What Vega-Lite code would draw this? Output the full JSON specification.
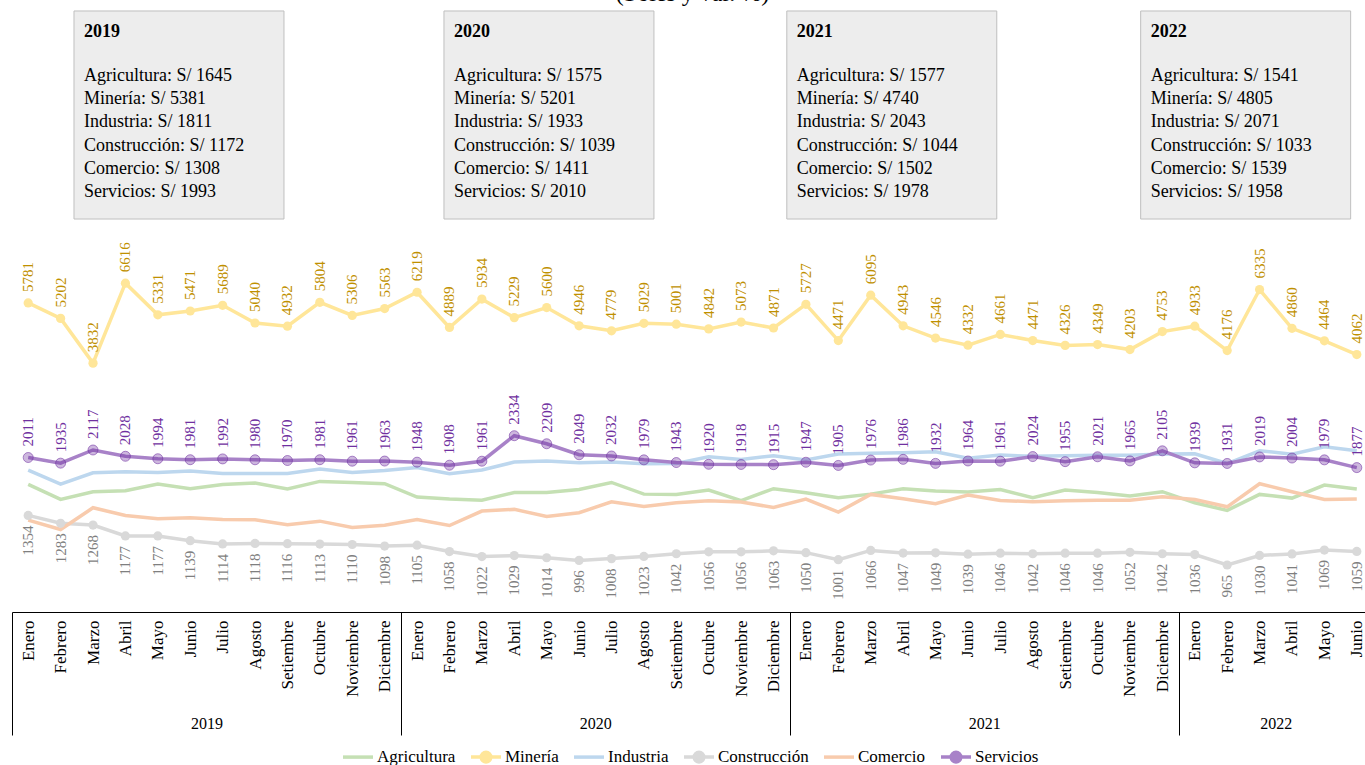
{
  "$schema": "https://vega.github.io/schema/vega-lite/v6.json",
  "width": 1353,
  "height": 582,
  "autosize": {"type": "none"},
  "padding": {"left": 12, "top": 30, "right": 0, "bottom": 153},
  "background": "white",
  "title": {"text": "(Soles y var. %)", "fontSize": 24, "fontWeight": "normal", "font": "Liberation Serif", "anchor": "middle", "frame": "group", "offset": 4, "dx": 4, "color": "black"},
  "config": {"font": "Liberation Serif", "view": {"stroke": null}},
  "resolve": {"scale": {"x": "independent"}, "axis": {"x": "independent"}},
  "layer": [
    {
      "data": {"values": [
        {"anio": "2019", "x0": 1.913, "x1": 8.393, "texto": "Agricultura: S/ 1645\nMinería: S/ 5381\nIndustria: S/ 1811\nConstrucción: S/ 1172\nComercio: S/ 1308\nServicios: S/ 1993"},
        {"anio": "2020", "x0": 13.33, "x1": 19.81, "texto": "Agricultura: S/ 1575\nMinería: S/ 5201\nIndustria: S/ 1933\nConstrucción: S/ 1039\nComercio: S/ 1411\nServicios: S/ 2010"},
        {"anio": "2021", "x0": 23.91, "x1": 30.39, "texto": "Agricultura: S/ 1577\nMinería: S/ 4740\nIndustria: S/ 2043\nConstrucción: S/ 1044\nComercio: S/ 1502\nServicios: S/ 1978"},
        {"anio": "2022", "x0": 34.83, "x1": 41.31, "texto": "Agricultura: S/ 1541\nMinería: S/ 4805\nIndustria: S/ 2071\nConstrucción: S/ 1033\nComercio: S/ 1539\nServicios: S/ 1958"}
      ]},
      "encoding": {
        "x": {
          "field": "x0", "type": "quantitative",
          "scale": {"domain": [0, 42], "range": [0, 1361], "nice": false, "zero": false},
          "axis": {
            "orient": "bottom", "title": null, "domain": false, "grid": false,
            "values": [0, 6, 12, 18, 24, 30, 36, 39],
            "tickSize": 123, "tickColor": "black", "tickWidth": 1,
            "tickOpacity": {"condition": {"test": "datum.value % 12 === 0", "value": 1}, "value": 0},
            "labelExpr": "datum.value === 6 ? '2019' : datum.value === 18 ? '2020' : datum.value === 30 ? '2021' : datum.value === 39 ? '2022' : ''",
            "labelPadding": -20, "labelAngle": 0, "labelFontSize": 16, "labelFont": "Liberation Serif", "labelColor": "black",
            "labelFlush": false, "labelOverlap": false, "labelBaseline": "top"
          }
        }
      },
      "layer": [
        {
          "mark": {"type": "rect", "fill": "#ededed", "stroke": "#bfbfbf", "strokeWidth": 1},
          "encoding": {
            "x2": {"field": "x1"},
            "y": {"datum": 42475, "type": "quantitative", "scale": {"type": "log", "domain": [700, 37300], "nice": false, "zero": false}, "axis": null},
            "y2": {"datum": 10255}
          }
        },
        {
          "mark": {"type": "text", "align": "left", "baseline": "middle", "dx": 10, "fontSize": 18, "fontWeight": "bold", "font": "Liberation Serif", "color": "black"},
          "encoding": {
            "y": {"datum": 36802, "type": "quantitative", "axis": null},
            "text": {"field": "anio", "type": "nominal"}
          }
        },
        {
          "mark": {"type": "text", "align": "left", "baseline": "middle", "dx": 10, "fontSize": 18, "font": "Liberation Serif", "color": "black", "lineBreak": "\n", "lineHeight": 23.2},
          "encoding": {
            "y": {"datum": 27237, "type": "quantitative", "axis": null},
            "text": {"field": "texto", "type": "nominal"}
          }
        }
      ]
    },
    {
      "data": {"values": [
        {"periodo": "Enero 2019", "Agricultura": 1673, "Minería": 5781, "Industria": 1846, "Construcción": 1354, "Comercio": 1311, "Servicios": 2011},
        {"periodo": "Febrero 2019", "Agricultura": 1510, "Minería": 5202, "Industria": 1677, "Construcción": 1283, "Comercio": 1230, "Servicios": 1935},
        {"periodo": "Marzo 2019", "Agricultura": 1592, "Minería": 3832, "Industria": 1812, "Construcción": 1268, "Comercio": 1427, "Servicios": 2117},
        {"periodo": "Abril 2019", "Agricultura": 1602, "Minería": 6616, "Industria": 1825, "Construcción": 1177, "Comercio": 1354, "Servicios": 2028},
        {"periodo": "Mayo 2019", "Agricultura": 1677, "Minería": 5331, "Industria": 1816, "Construcción": 1177, "Comercio": 1323, "Servicios": 1994},
        {"periodo": "Junio 2019", "Agricultura": 1625, "Minería": 5471, "Industria": 1833, "Construcción": 1139, "Comercio": 1332, "Servicios": 1981},
        {"periodo": "Julio 2019", "Agricultura": 1673, "Minería": 5689, "Industria": 1804, "Construcción": 1114, "Comercio": 1317, "Servicios": 1992},
        {"periodo": "Agosto 2019", "Agricultura": 1689, "Minería": 5040, "Industria": 1804, "Construcción": 1118, "Comercio": 1314, "Servicios": 1980},
        {"periodo": "Setiembre 2019", "Agricultura": 1621, "Minería": 4932, "Industria": 1804, "Construcción": 1116, "Comercio": 1270, "Servicios": 1970},
        {"periodo": "Octubre 2019", "Agricultura": 1708, "Minería": 5804, "Industria": 1858, "Construcción": 1113, "Comercio": 1302, "Servicios": 1981},
        {"periodo": "Noviembre 2019", "Agricultura": 1696, "Minería": 5306, "Industria": 1816, "Construcción": 1110, "Comercio": 1247, "Servicios": 1961},
        {"periodo": "Diciembre 2019", "Agricultura": 1681, "Minería": 5563, "Industria": 1841, "Construcción": 1098, "Comercio": 1267, "Servicios": 1963},
        {"periodo": "Enero 2020", "Agricultura": 1535, "Minería": 6219, "Industria": 1879, "Construcción": 1105, "Comercio": 1317, "Servicios": 1948},
        {"periodo": "Febrero 2020", "Agricultura": 1514, "Minería": 4889, "Industria": 1800, "Construcción": 1058, "Comercio": 1264, "Servicios": 1908},
        {"periodo": "Marzo 2020", "Agricultura": 1503, "Minería": 5934, "Industria": 1846, "Construcción": 1022, "Comercio": 1395, "Servicios": 1961},
        {"periodo": "Abril 2020", "Agricultura": 1584, "Minería": 5229, "Industria": 1949, "Construcción": 1029, "Comercio": 1411, "Servicios": 2334},
        {"periodo": "Mayo 2020", "Agricultura": 1584, "Minería": 5600, "Industria": 1963, "Construcción": 1014, "Comercio": 1345, "Servicios": 2209},
        {"periodo": "Junio 2020", "Agricultura": 1617, "Minería": 4946, "Industria": 1940, "Construcción": 996, "Comercio": 1379, "Servicios": 2049},
        {"periodo": "Julio 2020", "Agricultura": 1696, "Minería": 4779, "Industria": 1949, "Construcción": 1008, "Comercio": 1486, "Servicios": 2032},
        {"periodo": "Agosto 2020", "Agricultura": 1566, "Minería": 5029, "Industria": 1927, "Construcción": 1023, "Comercio": 1440, "Servicios": 1979},
        {"periodo": "Setiembre 2020", "Agricultura": 1563, "Minería": 5001, "Industria": 1932, "Construcción": 1042, "Comercio": 1476, "Servicios": 1943},
        {"periodo": "Octubre 2020", "Agricultura": 1610, "Minería": 4842, "Industria": 2022, "Construcción": 1056, "Comercio": 1497, "Servicios": 1920},
        {"periodo": "Noviembre 2020", "Agricultura": 1497, "Minería": 5073, "Industria": 1985, "Construcción": 1056, "Comercio": 1483, "Servicios": 1918},
        {"periodo": "Diciembre 2020", "Agricultura": 1625, "Minería": 4871, "Industria": 2035, "Construcción": 1063, "Comercio": 1430, "Servicios": 1915},
        {"periodo": "Enero 2021", "Agricultura": 1581, "Minería": 5727, "Industria": 1977, "Construcción": 1050, "Comercio": 1514, "Servicios": 1947},
        {"periodo": "Febrero 2021", "Agricultura": 1528, "Minería": 4471, "Industria": 2060, "Construcción": 1001, "Comercio": 1385, "Servicios": 1905},
        {"periodo": "Marzo 2021", "Agricultura": 1566, "Minería": 6095, "Industria": 2070, "Construcción": 1066, "Comercio": 1563, "Servicios": 1976},
        {"periodo": "Abril 2021", "Agricultura": 1625, "Minería": 4943, "Industria": 2079, "Construcción": 1047, "Comercio": 1517, "Servicios": 1986},
        {"periodo": "Mayo 2021", "Agricultura": 1599, "Minería": 4546, "Industria": 2093, "Construcción": 1049, "Comercio": 1466, "Servicios": 1932},
        {"periodo": "Junio 2021", "Agricultura": 1588, "Minería": 4332, "Industria": 2000, "Construcción": 1039, "Comercio": 1556, "Servicios": 1964},
        {"periodo": "Julio 2021", "Agricultura": 1617, "Minería": 4661, "Industria": 2046, "Construcción": 1046, "Comercio": 1500, "Servicios": 1961},
        {"periodo": "Agosto 2021", "Agricultura": 1528, "Minería": 4471, "Industria": 2027, "Construcción": 1042, "Comercio": 1486, "Servicios": 2024},
        {"periodo": "Setiembre 2021", "Agricultura": 1610, "Minería": 4326, "Industria": 2037, "Construcción": 1046, "Comercio": 1497, "Servicios": 1955},
        {"periodo": "Octubre 2021", "Agricultura": 1584, "Minería": 4349, "Industria": 2041, "Construcción": 1046, "Comercio": 1503, "Servicios": 2021},
        {"periodo": "Noviembre 2021", "Agricultura": 1545, "Minería": 4203, "Industria": 2041, "Construcción": 1052, "Comercio": 1503, "Servicios": 1965},
        {"periodo": "Diciembre 2021", "Agricultura": 1592, "Minería": 4753, "Industria": 2060, "Construcción": 1042, "Comercio": 1538, "Servicios": 2105},
        {"periodo": "Enero 2022", "Agricultura": 1476, "Minería": 4933, "Industria": 2063, "Construcción": 1036, "Comercio": 1510, "Servicios": 1939},
        {"periodo": "Febrero 2022", "Agricultura": 1401, "Minería": 4176, "Industria": 1930, "Construcción": 965, "Comercio": 1436, "Servicios": 1931},
        {"periodo": "Marzo 2022", "Agricultura": 1563, "Minería": 6335, "Industria": 2106, "Construcción": 1030, "Comercio": 1681, "Servicios": 2019},
        {"periodo": "Abril 2022", "Agricultura": 1524, "Minería": 4860, "Industria": 2058, "Construcción": 1041, "Comercio": 1592, "Servicios": 2004},
        {"periodo": "Mayo 2022", "Agricultura": 1666, "Minería": 4464, "Industria": 2164, "Construcción": 1069, "Comercio": 1510, "Servicios": 1979},
        {"periodo": "Junio 2022", "Agricultura": 1621, "Minería": 4062, "Industria": 2106, "Construcción": 1059, "Comercio": 1514, "Servicios": 1877}
      ]},
      "encoding": {
        "x": {
          "field": "periodo", "type": "ordinal", "sort": null,
          "scale": {"type": "point", "padding": 0.5, "range": [0, 1361]},
          "axis": {
            "orient": "bottom", "title": null, "ticks": false, "grid": false,
            "labelAngle": -90, "labelPadding": 8, "labelFont": "Liberation Serif", "labelFontSize": 17, "labelColor": "black",
            "domainColor": "black", "domainWidth": 1,
            "labelExpr": "split(datum.label, ' ')[0]"
          }
        }
      },
      "layer": [
        {
          "mark": {"type": "line", "strokeWidth": 3.5},
          "encoding": {
            "y": {"field": "Agricultura", "type": "quantitative", "scale": {"type": "log", "domain": [700, 37300], "nice": false, "zero": false}, "axis": null},
            "color": {
              "datum": "Agricultura",
              "scale": {"domain": ["Agricultura", "Minería", "Industria", "Construcción", "Comercio", "Servicios"], "range": ["#c5e0b4", "#ffe699", "#bdd7ee", "#d9d9d9", "#f8cbad", "#a882c8"]},
              "legend": {
                "orient": "none", "legendX": 329, "legendY": 710, "direction": "horizontal", "title": null,
                "symbolType": "stroke", "symbolSize": 900, "symbolStrokeWidth": 3.5,
                "labelFontSize": 17, "labelFont": "Liberation Serif", "labelColor": "black", "labelOffset": 2,
                "columnPadding": 8,
                "encode": {"symbols": {"update": {
                  "shape": {"signal": "(datum.value === 'Minería' || datum.value === 'Construcción' || datum.value === 'Servicios') ? 'M-1,0L1,0M-0.32,0A0.32,0.32,0,1,1,0.32,0A0.32,0.32,0,1,1,-0.32,0' : 'M-1,0L1,0M0,-0.32L0,-0.32M0,0.32L0,0.32'"},
                  "fill": {"signal": "datum.value === 'Minería' ? '#ffe699' : datum.value === 'Construcción' ? '#d9d9d9' : datum.value === 'Servicios' ? '#a882c8' : 'transparent'"}
                }}}
              }
            }
          }
        },
        {
          "mark": {"type": "line", "strokeWidth": 3.5},
          "encoding": {"y": {"field": "Minería", "type": "quantitative", "axis": null}, "color": {"datum": "Minería"}}
        },
        {
          "mark": {"type": "line", "strokeWidth": 3.5},
          "encoding": {"y": {"field": "Industria", "type": "quantitative", "axis": null}, "color": {"datum": "Industria"}}
        },
        {
          "mark": {"type": "line", "strokeWidth": 3.5},
          "encoding": {"y": {"field": "Construcción", "type": "quantitative", "axis": null}, "color": {"datum": "Construcción"}}
        },
        {
          "mark": {"type": "line", "strokeWidth": 3.5},
          "encoding": {"y": {"field": "Comercio", "type": "quantitative", "axis": null}, "color": {"datum": "Comercio"}}
        },
        {
          "mark": {"type": "line", "strokeWidth": 3.5},
          "encoding": {"y": {"field": "Servicios", "type": "quantitative", "axis": null}, "color": {"datum": "Servicios"}}
        },
        {
          "mark": {"type": "circle", "size": 85, "color": "#ffe699", "opacity": 1},
          "encoding": {"y": {"field": "Minería", "type": "quantitative", "axis": null}}
        },
        {
          "mark": {"type": "circle", "size": 85, "color": "#d9d9d9", "opacity": 1},
          "encoding": {"y": {"field": "Construcción", "type": "quantitative", "axis": null}}
        },
        {
          "mark": {"type": "point", "shape": "circle", "size": 100, "filled": true, "fill": "#7030a0", "fillOpacity": 0.35, "stroke": "#7030a0", "strokeOpacity": 0.55, "strokeWidth": 1},
          "encoding": {"y": {"field": "Servicios", "type": "quantitative", "axis": null}}
        },
        {
          "mark": {"type": "text", "angle": 270, "align": "left", "baseline": "middle", "dx": 11, "fontSize": 15, "font": "Liberation Serif", "color": "#bf9000"},
          "encoding": {"y": {"field": "Minería", "type": "quantitative", "axis": null}, "text": {"field": "Minería", "type": "quantitative", "format": "d"}}
        },
        {
          "mark": {"type": "text", "angle": 270, "align": "left", "baseline": "middle", "dx": 11, "fontSize": 15, "font": "Liberation Serif", "color": "#7030a0"},
          "encoding": {"y": {"field": "Servicios", "type": "quantitative", "axis": null}, "text": {"field": "Servicios", "type": "quantitative", "format": "d"}}
        },
        {
          "mark": {"type": "text", "angle": 270, "align": "right", "baseline": "middle", "dx": -10, "fontSize": 15, "font": "Liberation Serif", "color": "#7f7f7f"},
          "encoding": {"y": {"field": "Construcción", "type": "quantitative", "axis": null}, "text": {"field": "Construcción", "type": "quantitative", "format": "d"}}
        }
      ]
    }
  ]
}
